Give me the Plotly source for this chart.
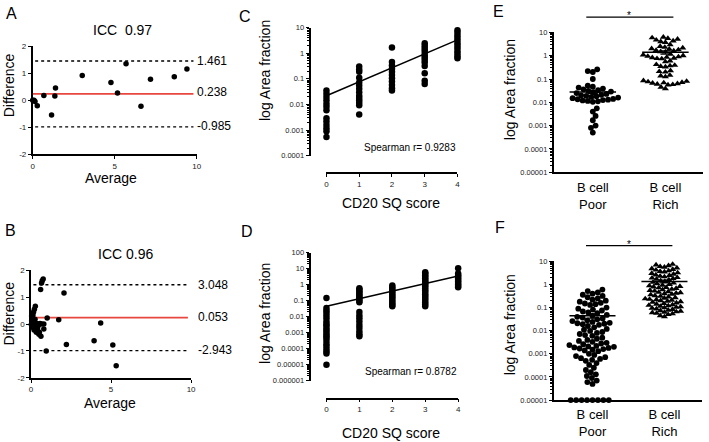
import numpy as np
import plotly.graph_objects as go

W, H = 709, 442
FONT = "Liberation Sans, Arial, sans-serif"

# ---------------- data ----------------
# Panel A (Bland-Altman)
a_avg = [0, 0.08, 0.14, 0.28, 0.68, 1.15, 1.35, 1.39, 3.02, 4.77, 5.17, 5.69, 6.6, 7.18, 8.63, 9.4]
a_diff = [0, 0, -0.04, -0.2, 0.18, -0.55, 0.16, 0.46, 0.92, 0.66, 0.27, 1.36, -0.22, 0.78, 0.87, 1.16]
a_lines = [1.461, 0.238, -0.985]
a_labels = ["1.461", "0.238", "-0.985"]
a_title = "ICC  0.97"

# Panel B
b_avg = [0.76, 0.70, 0.66, 0.60, 2.06, 0.27, 0.21, 0.16, 0.12, 0.08, 1.01, 1.73, 4.35, 0.80, 0.80,
         0.62, 2.21, 3.94, 5.11, 5.32, 0.95,
         0.04, 0.08, 0.14, 0.20, 0.25, 0.31, 0.37, 0.41, 0.45, 0.52, 0.33, 0.19, 0.08, 0.02, 0.56,
         0.49, 0.25, 0.04, 0.12, 0.66]
b_diff = [1.67, 1.61, 1.52, 1.28, 1.15, 0.66, 0.55, 0.45, 0.34, 0.24, 0.22, 0.16, 0.04, 0.0, -0.18,
          -0.45, -0.76, -0.62, -0.78, -1.55, -1.0,
          0.12, 0.02, -0.02, 0.06, -0.06, -0.12, 0.02, -0.18, -0.06, -0.30, -0.30, -0.22, -0.12, -0.02, 0.02,
          -0.38, 0.18, 0.30, 0.15, 0.0]
b_lines = [1.461, 0.238, -0.985]
b_labels = ["3.048", "0.053", "-2.943"]
b_title = "ICC 0.96"

# Panel C (CD20 SQ score vs area fraction)
c_score = [0] * 13 + [1] * 14 + [2] * 11 + [3] * 13 + [4] * 12
c_area = [0.035, 0.026, 0.0195, 0.0145, 0.0107, 0.0081, 0.006, 0.0029, 0.0022, 0.0016, 0.0012, 0.0009, 0.00054,
          0.3, 0.23, 0.19, 0.11, 0.072, 0.055, 0.041, 0.03, 0.022, 0.018, 0.0145, 0.0118, 0.0093, 0.0041,
          1.65, 0.45, 0.33, 0.25, 0.19, 0.14, 0.105, 0.078, 0.058, 0.043, 0.035,
          2.45, 1.95, 1.6, 1.3, 1.02, 0.8, 0.66, 0.54, 0.43, 0.32, 0.166, 0.085, 0.063,
          7.9, 6.3, 4.9, 3.9, 3.1, 2.45, 1.95, 1.55, 1.2, 0.95, 0.76, 0.63]
c_fit_x = [0, 4]
c_fit_y = [0.022, 3.3]
c_text = "Spearman r= 0.9283"

# Panel D
d_col0 = [0.15, 0.035, 0.025, 0.018, 0.012, 0.008, 0.005, 0.0035, 0.0028, 0.002, 0.0015, 0.0011,
          0.0008, 0.0006, 0.00045, 0.0003, 0.0002, 0.00015, 0.0001, 0.00007, 0.00005, 0.00001]
d_col1 = [0.6, 0.5, 0.4, 0.32, 0.25, 0.2, 0.16, 0.13, 0.1, 0.08, 0.02, 0.012, 0.008, 0.005, 0.003,
          0.002, 0.0012, 0.0008, 0.0006]
d_col2 = [0.9, 0.7, 0.55, 0.42, 0.33, 0.26, 0.2, 0.16, 0.12, 0.09, 0.07, 0.055, 0.045]
d_col3 = [6, 5, 4, 3.2, 2.6, 2.0, 1.6, 1.3, 1.0, 0.8, 0.6, 0.45, 0.35, 0.26, 0.2, 0.15, 0.11, 0.08, 0.06, 0.045]
d_col4 = [11, 5, 4, 3.2, 2.5, 2.0, 1.6, 1.3, 1.05, 0.85, 0.7]
d_fit_x = [0, 4]
d_fit_y = [0.045, 3.6]
d_text = "Spearman r= 0.8782"

# Panel E
groups = ["B cell<br>Poor", "B cell<br>Rich"]
e_poor = [0.26, 0.2, 0.22, 0.10,
          0.052, 0.047, 0.043, 0.039, 0.036, 0.033, 0.031, 0.029, 0.027, 0.025,
          0.023, 0.021, 0.02, 0.019, 0.018, 0.017, 0.016, 0.015, 0.014,
          0.0135, 0.013, 0.0125, 0.012, 0.0115, 0.011, 0.0105,
          0.0055, 0.004, 0.0026, 0.0017, 0.001, 0.0008, 0.0005]
e_rich = [6.3, 5.9, 5.5, 5.1, 4.7, 4.3, 4.0, 3.7, 3.0,
          2.5, 2.3, 2.15, 2.0, 1.9, 1.8, 1.7, 1.6, 1.5, 1.45,
          1.15, 1.08, 1.0, 0.95, 0.9, 0.86, 0.82, 0.79, 0.76, 0.74,
          0.6, 0.55,
          0.42, 0.39, 0.37, 0.35, 0.33,
          0.23, 0.21, 0.2,
          0.145, 0.135, 0.125,
          0.085, 0.08, 0.076, 0.072, 0.069, 0.066, 0.063, 0.06, 0.058, 0.056,
          0.045, 0.038]
e_mean = [0.028, 1.4]
e_sem = [0.004, 0.22]

# Panel F
f_poor = [0.6, 0.52, 0.45, 0.4, 0.36, 0.32, 0.28,
          0.25, 0.22, 0.2, 0.18, 0.16, 0.15, 0.14, 0.13,
          0.1, 0.09, 0.082, 0.075, 0.068, 0.062, 0.057,
          0.048, 0.044, 0.04, 0.037, 0.034, 0.031, 0.028, 0.026, 0.024, 0.022, 0.021, 0.02, 0.019, 0.018,
          0.016, 0.014, 0.012,
          0.011, 0.0098, 0.0088, 0.008, 0.0072, 0.0065, 0.006,
          0.005, 0.0045, 0.004,
          0.0036, 0.0033, 0.003, 0.0028, 0.0026, 0.0024, 0.0022, 0.0021, 0.002, 0.0019, 0.0018, 0.0017,
          0.0016, 0.0015, 0.0014, 0.0013,
          0.001, 0.0009, 0.0008, 0.00072, 0.00065, 0.0006, 0.00055, 0.0005,
          0.0004, 0.00033,
          0.00025, 0.0002, 0.00016, 0.00013, 0.00011,
          0.00009, 0.00007, 0.00006, 0.00005,
          0.00001, 0.00001, 0.00001, 0.00001, 0.00001, 0.00001, 0.00001, 0.00001]
f_rich = [13,
          7.5, 7.0, 6.5, 6.0, 5.6, 5.2, 4.8, 4.5, 4.2, 3.9, 3.7, 3.5,
          3.2, 3.0, 2.8, 2.6, 2.45, 2.3, 2.15, 2.0, 1.9, 1.8, 1.7, 1.6,
          1.45, 1.35, 1.25, 1.15, 1.07, 1.0, 0.94, 0.88, 0.83, 0.79, 0.75, 0.72,
          0.68, 0.63, 0.59, 0.55, 0.52, 0.49, 0.46, 0.44, 0.42, 0.4, 0.38, 0.36,
          0.33, 0.31, 0.29, 0.27, 0.255, 0.24, 0.23, 0.22, 0.21, 0.2, 0.19, 0.18,
          0.17, 0.16, 0.15, 0.14, 0.133, 0.126, 0.12, 0.114, 0.108, 0.103, 0.098, 0.094,
          0.088, 0.083, 0.078, 0.074, 0.07, 0.066, 0.063, 0.06, 0.057, 0.054,
          0.05, 0.045, 0.04]
f_mean = [0.044, 1.35]
f_sem = [0.009, 0.18]

c_ticks = [0.0001, 0.001, 0.01, 0.1, 1, 10]
c_ticktext = ["0.0001", "0.001", "0.01", "0.1", "1", "10"]
d_ticks = [1e-6, 1e-5, 1e-4, 1e-3, 1e-2, 0.1, 1, 10, 100]
d_ticktext = ["0.000001", "0.00001", "0.0001", "0.001", "0.01", "0.1", "1", "10", "100"]
ef_ticks = [1e-5, 1e-4, 1e-3, 1e-2, 0.1, 1, 10]
ef_ticktext = ["0.00001", "0.0001", "0.001", "0.01", "0.1", "1", "10"]
ba_yticks = [-2, -1, 0, 1, 2]
ba_yticktext = ["-2", "-1", "0", "1", "2"]
ba_xticks = [0, 5, 10]
score_ticks = [0, 1, 2, 3, 4]


# ---------------- helpers ----------------
def fx(p):
    return p / W


def fy(p):
    return 1 - p / H


def minor_vals(lo, hi):
    return [m * 10.0 ** k for k in range(lo, hi) for m in range(2, 10)]


def swarm(vals, ppd, ppu, d):
    ys = np.log10(np.asarray(vals, float)) * ppd
    order = np.argsort(ys, kind="stable")
    placed = []
    xs = np.zeros(len(ys))
    for n, i in enumerate(order):
        y = ys[i]
        near = [(a, b) for a, b in placed if abs(b - y) < d]
        cands = [0.0]
        for a, b in near:
            dx = np.sqrt(d * d - (b - y) ** 2)
            cands += [a + dx, a - dx]
        sgn = 1 if n % 2 == 0 else -1
        cands.sort(key=lambda c: (round(abs(c), 6), -sgn * c))
        for c in cands:
            if all((c - a) ** 2 + (y - b) ** 2 >= d * d - 1e-6 for a, b in near):
                xs[i] = c
                break
        placed.append((xs[i], y))
    return xs / ppu


axis_line = dict(showline=True, linecolor="black", linewidth=1.6, ticks="outside", ticklen=3,
                 tickwidth=1.3, tickcolor="black", showgrid=False, zeroline=False,
                 tickfont=dict(family=FONT, size=8, color="#222"))

fig = go.Figure()

# ---------------- A & B ----------------
dom = {
    "A": dict(x=(31, 196.7), y=(153.3, 43.3)),
    "B": dict(x=(29.3, 191), y=(381.7, 271.7)),
}
for key, ax, avg, diff, lines in [("A", "", a_avg, a_diff, a_lines), ("B", "2", b_avg, b_diff, b_lines)]:
    xr, yr = "x" + ax, "y" + ax
    for k, v in enumerate(lines):
        if k == 1:
            fig.add_trace(go.Scatter(x=[0, 9.8], y=[v, v], mode="lines", xaxis=xr, yaxis=yr,
                                     line=dict(color="#e8473f", width=1.6), showlegend=False, hoverinfo="skip"))
        else:
            fig.add_trace(go.Scatter(x=[0.15, 9.8], y=[v, v], mode="lines", xaxis=xr, yaxis=yr,
                                     line=dict(color="black", width=1.4, dash="dot"), showlegend=False,
                                     hoverinfo="skip"))
    fig.add_trace(go.Scatter(x=avg, y=diff, mode="markers", xaxis=xr, yaxis=yr, cliponaxis=False,
                             marker=dict(color="black", size=5.5), showlegend=False))

for key, ax in [("A", "xaxis"), ("B", "xaxis2")]:
    d = dom[key]
    fig.layout[ax] = dict(axis_line, domain=[fx(d["x"][0]), fx(d["x"][1])], range=[0, 10],
                          tickmode="array", tickvals=ba_xticks, anchor="y" if key == "A" else "y2")
    fig.layout["yaxis" if key == "A" else "yaxis2"] = dict(
        axis_line, domain=[fy(d["y"][0]), fy(d["y"][1])], range=[-2, 2], tickmode="array",
        tickvals=ba_yticks, ticktext=ba_yticktext, anchor="x" if key == "A" else "x2")

# ---------------- C & D ----------------
d_score = [0] * len(d_col0) + [1] * len(d_col1) + [2] * len(d_col2) + [3] * len(d_col3) + [4] * len(d_col4)
d_area = d_col0 + d_col1 + d_col2 + d_col3 + d_col4
for ax, sc, ar, fxv, fyv in [("3", c_score, c_area, c_fit_x, c_fit_y), ("4", d_score, d_area, d_fit_x, d_fit_y)]:
    fig.add_trace(go.Scatter(x=sc, y=ar, mode="markers", xaxis="x" + ax, yaxis="y" + ax, cliponaxis=False,
                             marker=dict(color="black", size=6.5), showlegend=False))
    fig.add_trace(go.Scatter(x=fxv, y=fyv, mode="lines", xaxis="x" + ax, yaxis="y" + ax, cliponaxis=False,
                             line=dict(color="black", width=1.5), showlegend=False))

log_axis = dict(axis_line, type="log", tickmode="array", ticklen=3.5,
                tickfont=dict(family=FONT, size=7.5, color="#222"))
fig.layout.xaxis3 = dict(axis_line, domain=[fx(327.7), fx(460)], range=[0, 4], anchor="free",
                         position=fy(172.7), tickmode="array", tickvals=score_ticks)
fig.layout.yaxis3 = dict(log_axis, domain=[fy(155), fy(24)], range=[-4, 1], anchor="free", position=fx(311),
                         tickvals=c_ticks, ticktext=c_ticktext,
                         minor=dict(tickmode="array", tickvals=minor_vals(-4, 1), ticks="outside", ticklen=2,
                                    tickwidth=1, tickcolor="black"))
fig.layout.xaxis4 = dict(axis_line, domain=[fx(327.7), fx(460.7)], range=[0, 4], anchor="free",
                         position=fy(402.7), tickmode="array", tickvals=score_ticks)
fig.layout.yaxis4 = dict(log_axis, domain=[fy(384.5), fy(254)], range=[-6, 2], anchor="free", position=fx(311),
                         tickvals=d_ticks, ticktext=d_ticktext,
                         minor=dict(tickmode="array", tickvals=minor_vals(-6, 2), ticks="outside", ticklen=2,
                                    tickwidth=1, tickcolor="black"))

# ---------------- E & F ----------------
ef_dom = {"5": dict(x=(557.7, 708), y=(171.7, 29)), "6": dict(x=(557.7, 706.7), y=(404.3, 262.7))}
spacing = {"5": (5.2, 4.8), "6": (5.5, 4.4)}
x_lo, x_hi = -0.532, 1.518
for ax, poor, rich, means, sems in [("5", e_poor, e_rich, e_mean, e_sem), ("6", f_poor, f_rich, f_mean, f_sem)]:
    d = ef_dom[ax]
    ppd = (d["y"][0] - d["y"][1]) / 6.0
    ppu = (d["x"][1] - d["x"][0]) / (x_hi - x_lo)
    xp = swarm(poor, ppd, ppu, spacing[ax][0])
    xr_ = swarm(rich, ppd, ppu, spacing[ax][1])
    fig.add_trace(go.Scatter(x=0 + xp, y=poor, mode="markers", xaxis="x" + ax, yaxis="y" + ax, cliponaxis=False,
                             marker=dict(color="black", size=5.8), showlegend=False))
    fig.add_trace(go.Scatter(x=1 + xr_, y=rich, mode="markers", xaxis="x" + ax, yaxis="y" + ax,
                             cliponaxis=False, marker=dict(color="black", size=6.2, symbol="triangle-up"),
                             showlegend=False))
    for g in range(2):
        fig.add_trace(go.Scatter(x=[g - 0.32, g + 0.32], y=[means[g]] * 2, mode="lines", xaxis="x" + ax,
                                 yaxis="y" + ax, line=dict(color="black", width=1.5), showlegend=False))
    fig.add_trace(go.Scatter(x=[0, 1], y=means, mode="markers", xaxis="x" + ax, yaxis="y" + ax,
                             marker=dict(size=1, color="black"),
                             error_y=dict(type="data", array=sems, color="black", thickness=1.3, width=5),
                             showlegend=False))
    fig.layout["xaxis" + ax] = dict(axis_line, domain=[fx(d["x"][0]), fx(d["x"][1])], range=[x_lo, x_hi],
                                    anchor="y" + ax, tickmode="array", tickvals=[0, 1], ticktext=groups,
                                    ticks="", ticklabelstandoff=2,
                                    tickfont=dict(family=FONT, size=13, color="black"))
    fig.layout["yaxis" + ax] = dict(log_axis, domain=[fy(d["y"][0]), fy(d["y"][1])], range=[-5, 1],
                                    anchor="x" + ax, tickvals=ef_ticks, ticktext=ef_ticktext,
                                    minor=dict(tickmode="array", tickvals=minor_vals(-5, 1), ticks="outside",
                                               ticklen=2, tickwidth=1, tickcolor="black"))

# significance bars
for ax, ypix in [("5", 13.3), ("6", 246.7)]:
    fig.add_shape(type="line", xref="x" + ax, yref="paper", x0=-0.09, x1=1.11, y0=fy(ypix), y1=fy(ypix),
                  line=dict(color="black", width=1.2))

# ---------------- annotations ----------------
anns = []


def ann(text, x, y, size, xanchor="center", angle=0, color="black"):
    anns.append(dict(text=text, x=fx(x), y=fy(y), xref="paper", yref="paper", showarrow=False,
                     xanchor=xanchor, yanchor="middle", textangle=angle,
                     font=dict(family=FONT, size=size, color=color)))


for letter, x, y in [("A", 10, 10), ("B", 9, 231), ("C", 245, 13), ("D", 247, 232), ("E", 501, 8),
                     ("F", 503, 228)]:
    ann(letter, x, y, 16)
ann(a_title, 122, 27, 14)
ann(b_title, 125, 255, 14)
ann("Difference", 7, 83, 14, angle=-90)
ann("Difference", 7, 316, 14, angle=-90)
ann("Average", 110, 177.5, 14)
ann("Average", 109, 407, 14)
for v, t, yp in zip(a_lines, a_labels, [57.7, 90, 124.7]):
    ann(t, 194.5, yp, 12, xanchor="left")
for v, t, yp in zip(b_lines, b_labels, [286.7, 319.3, 352.7]):
    ann(t, 195.5, yp, 12, xanchor="left")
ann("log Area fraction", 265, 68, 14, angle=-90)
ann("log Area fraction", 265, 316, 14, angle=-90)
ann("log Area fraction", 513, 87, 14, angle=-90)
ann("log Area fraction", 513, 327, 14, angle=-90)
ann("CD20 SQ score", 393, 203, 14)
ann("CD20 SQ score", 393, 438, 14)
ann(c_text, 461, 146.5, 10, xanchor="right")
ann(d_text, 462, 375.5, 10, xanchor="right")
ann("*", 633, 12, 10)
ann("*", 633, 246, 10)

fig.update_layout(width=W, height=H, autosize=False, margin=dict(l=0, r=0, t=0, b=0),
                  paper_bgcolor="white", plot_bgcolor="white", annotations=anns,
                  font=dict(family=FONT, color="black"))

fig.write_html("out.html", config={"displayModeBar": False},
               post_script="document.body.style.margin='0';document.body.style.overflow='hidden';")
